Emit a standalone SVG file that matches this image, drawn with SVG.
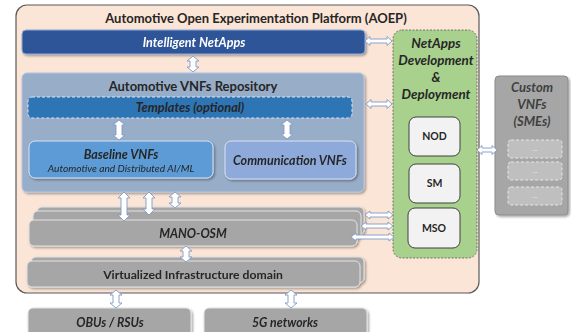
<svg xmlns="http://www.w3.org/2000/svg" width="571" height="332" viewBox="0 0 571 332">
  <style>
    text { font-family: Lato, "Liberation Sans", sans-serif; fill: #262626; text-anchor: middle; }
    .b { font-weight: bold; }
    .bi { font-weight: bold; font-style: italic; }
    .i { font-style: italic; }
    .gray { fill: #a6a6a6; stroke: #e3e3e3; stroke-width: 1; }
    .arrow { fill: #ffffff; stroke: #7f9bc8; stroke-width: 0.9; stroke-linejoin: miter; }
    .func { fill: #f2f2f2; stroke: #404040; stroke-width: 1; }
    .slot { fill: #bfbfbf; stroke: #e6e6e6; stroke-width: 1; stroke-dasharray: 3 2; }
  </style>
  <defs>
    <filter id="shadow" x="-10%" y="-10%" width="120%" height="130%">
      <feDropShadow dx="1.5" dy="1.5" stdDeviation="1.2" flood-color="#000" flood-opacity="0.35"/>
    </filter>
  </defs>

  <!-- platform frame -->
  <g id="aoep">
    <rect x="16" y="5" width="463" height="288" rx="11" fill="#fbe5d6" stroke="#595959" stroke-width="1.2"/>
    <text x="256" y="23" class="b" font-size="13">Automotive Open Experimentation Platform (AOEP)</text>
  </g>

  <g id="intelligent-netapps" filter="url(#shadow)">
    <rect x="22" y="30" width="343" height="24" rx="4" fill="#2f5597" stroke="#8faadc" stroke-width="1"/>
    <text x="194" y="46.5" class="bi" font-size="12.6" style="fill:#ffffff">Intelligent NetApps</text>
  </g>

  <g id="vnf-repository">
    <rect x="22" y="73" width="342" height="119" rx="5" fill="#98adc7" stroke="#b4c7e7" stroke-width="1" filter="url(#shadow)"/>
    <text x="193" y="91" class="b" font-size="13">Automotive VNFs Repository</text>
  </g>

  <g id="templates">
    <rect x="28" y="97" width="324" height="21" rx="4" fill="#2e75b6" stroke="#dae3f3" stroke-width="1" stroke-dasharray="3 2"/>
    <text x="190" y="112" class="bi" font-size="12.8">Templates (optional)</text>
  </g>

  <g id="baseline-vnfs" filter="url(#shadow)">
    <rect x="29" y="141" width="184" height="37" rx="6" fill="#5b9bd5" stroke="#dae3f3" stroke-width="1"/>
    <text x="121" y="159" class="bi" font-size="12.5">Baseline VNFs</text>
    <text x="121" y="171.5" class="i" font-size="10.2">Automotive and Distributed AI/ML</text>
  </g>

  <g id="communication-vnfs" filter="url(#shadow)">
    <rect x="225" y="141" width="131" height="38" rx="6" fill="#8eaadb" stroke="#dae3f3" stroke-width="1"/>
    <text x="290" y="164.5" class="bi" font-size="12.5">Communication VNFs</text>
  </g>

  <g id="mano-osm" filter="url(#shadow)">
    <rect class="gray" x="37" y="207" width="327" height="28" rx="5"/>
    <rect class="gray" x="33" y="211" width="328" height="28" rx="5"/>
    <rect class="gray" x="29" y="220" width="328" height="26" rx="5"/>
    <text x="193" y="237.5" class="bi" font-size="12.3">MANO-OSM</text>
  </g>

  <g id="virtualized-infrastructure" filter="url(#shadow)">
    <rect class="gray" x="31" y="257" width="333" height="26" rx="5"/>
    <rect class="gray" x="27" y="261" width="333" height="26" rx="5"/>
    <text x="193" y="278.5" class="b" font-size="12.2">Virtualized Infrastructure domain</text>
  </g>

  <g id="netapps-dev" >
    <rect x="393" y="30" width="84" height="228" rx="9" fill="#a9d18e" stroke="#595959" stroke-width="0.8" stroke-dasharray="2 1.5"/>
    <text x="436" y="48" class="bi" font-size="13.4">NetApps</text>
    <text x="436" y="65" class="bi" font-size="13.4">Development</text>
    <text x="436" y="82" class="bi" font-size="13.4">&amp;</text>
    <text x="436" y="99" class="bi" font-size="13.4">Deployment</text>
  </g>

  <g id="nod">
    <rect class="func" x="409" y="117" width="51" height="39" rx="7"/>
    <text x="434.5" y="140" class="b" font-size="10.5">NOD</text>
  </g>
  <g id="sm">
    <rect class="func" x="409" y="164" width="51" height="39" rx="7"/>
    <text x="434.5" y="187" class="b" font-size="10.5">SM</text>
  </g>
  <g id="mso">
    <rect class="func" x="408" y="208" width="52" height="40" rx="7"/>
    <text x="434" y="232" class="b" font-size="10.5">MSO</text>
  </g>

  <g id="custom-vnfs">
    <rect x="495" y="76" width="73" height="139" rx="4" fill="#a6a6a6" stroke="#8c8c8c" stroke-width="1" filter="url(#shadow)"/>
    <text x="532" y="92" class="bi" font-size="13" style="fill:#404040">Custom</text>
    <text x="532" y="109" class="bi" font-size="13" style="fill:#404040">VNFs</text>
    <text x="532" y="126" class="bi" font-size="13" style="fill:#404040">(SMEs)</text>
    <rect class="slot" x="508" y="140" width="54" height="18" rx="3"/>
    <rect class="slot" x="508" y="162" width="54" height="18" rx="3"/>
    <rect class="slot" x="508" y="187" width="54" height="18" rx="3"/>
    <text x="535" y="151" font-size="7" style="fill:#eeeeee">...</text>
    <text x="535" y="173" font-size="7" style="fill:#eeeeee">...</text>
    <text x="535" y="198" font-size="7" style="fill:#eeeeee">...</text>
  </g>

  <g id="obus-rsus" filter="url(#shadow)">
    <rect class="gray" x="28" y="308" width="163" height="34" rx="5"/>
    <text x="110" y="326.5" class="bi" font-size="12.3">OBUs / RSUs</text>
  </g>

  <g id="5g-networks" filter="url(#shadow)">
    <rect class="gray" x="204" y="308" width="163" height="34" rx="5"/>
    <text x="285" y="326.5" class="bi" font-size="12.3">5G networks</text>
  </g>

  <!-- double-headed block arrows -->
  <g id="connectors">
    <!-- NetApps <-> repository -->
    <path class="arrow" d="M193,56 L199,61 L196,61 L196,67 L199,67 L193,72 L187,67 L190,67 L190,61 L187,61 Z"/>
    <!-- templates <-> baseline / communication -->
    <path class="arrow" d="M119,120 L125,125 L122,125 L122,135 L125,135 L119,140 L113,135 L116,135 L116,125 L113,125 Z"/>
    <path class="arrow" d="M287,120 L293,125 L290,125 L290,134 L293,134 L287,139 L281,134 L284,134 L284,125 L281,125 Z"/>
    <!-- repository <-> MANO-OSM -->
    <path class="arrow" d="M124,192 L130,198 L127,198 L127,215 L130,215 L124,221 L118,215 L121,215 L121,198 L118,198 Z"/>
    <path class="arrow" d="M149,192 L155,198 L152,198 L152,209 L155,209 L149,215 L143,209 L146,209 L146,198 L143,198 Z"/>
    <path class="arrow" d="M175,192 L181,197 L178,197 L178,203 L181,203 L175,208 L169,203 L172,203 L172,197 L169,197 Z"/>
    <!-- MANO-OSM <-> infrastructure -->
    <path class="arrow" d="M186,246 L192,251 L189,251 L189,257 L192,257 L186,262 L180,257 L183,257 L183,251 L180,251 Z"/>
    <!-- infrastructure <-> OBUs / 5G -->
    <path class="arrow" d="M116,290 L122,295 L119,295 L119,303 L122,303 L116,308 L110,303 L113,303 L113,295 L110,295 Z"/>
    <path class="arrow" d="M291,290 L297,295 L294,295 L294,303 L297,303 L291,308 L285,303 L288,303 L288,295 L285,295 Z"/>
    <!-- horizontal links to NetApps Development & Deployment -->
    <path class="arrow" d="M365,41 L370,36.5 L370,39 L387,39 L387,36.5 L392,41 L387,45.5 L387,43 L370,43 L370,45.5 Z"/>
    <path class="arrow" d="M366,104 L371,99.5 L371,102 L387,102 L387,99.5 L392,104 L387,108.5 L387,106 L371,106 L371,108.5 Z"/>
    <path class="arrow" d="M477,150 L482,145.5 L482,148 L492,148 L492,145.5 L497,150 L492,154.5 L492,152 L482,152 L482,154.5 Z"/>
    <path class="arrow" d="M365,215 L370,211 L370,213 L388,213 L388,211 L393,215 L388,219 L388,217 L370,217 L370,219 Z"/>
    <path class="arrow" d="M361,226 L366,222 L366,224 L388,224 L388,222 L393,226 L388,230 L388,228 L366,228 L366,230 Z"/>
    <path class="arrow" d="M351,237 L356,233 L356,235 L389,235 L389,233 L394,237 L389,241 L389,239 L356,239 L356,241 Z"/>
  </g>
</svg>
